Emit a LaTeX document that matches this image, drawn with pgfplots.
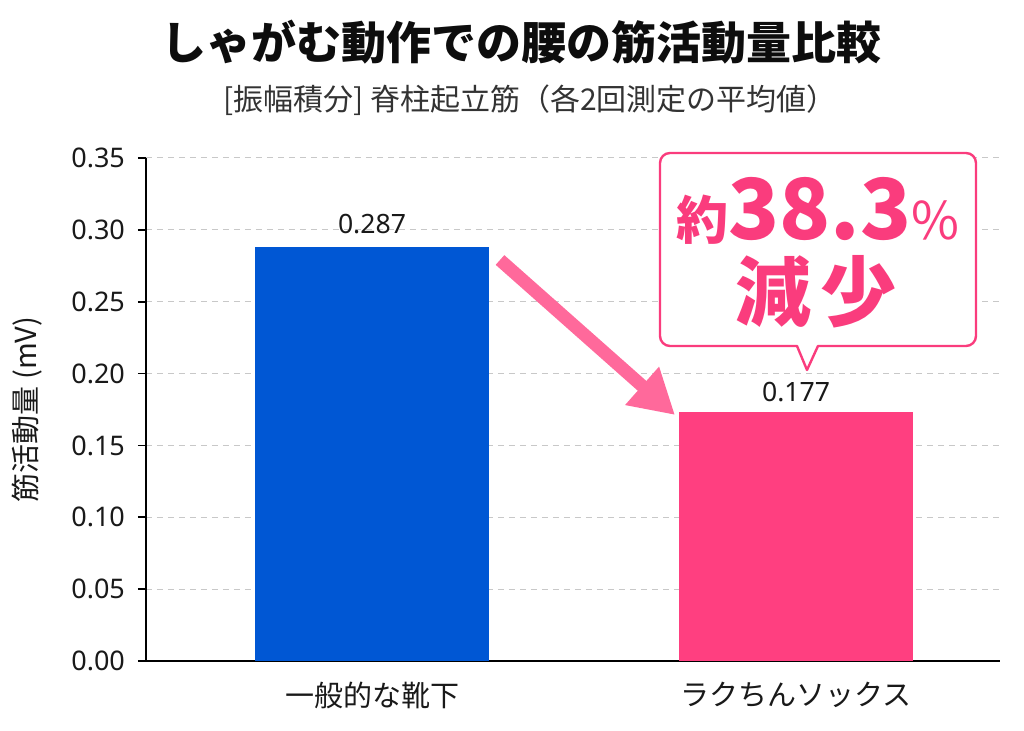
\documentclass[border=0pt]{standalone}
\usepackage{fontspec}
\setmainfont{Noto Sans CJK JP}
\newfontfamily\numfont{Noto Sans}
\usepackage{pgfplots}
\pgfplotsset{compat=1.18}
\usetikzlibrary{arrows.meta}
\definecolor{barblue}{RGB}{0,87,212}
\definecolor{barpink}{RGB}{255,63,128}
\definecolor{arrowpink}{RGB}{255,105,155}
\definecolor{callpink}{RGB}{250,60,125}
\definecolor{gridgray}{RGB}{200,200,200}
\begin{document}
\begin{tikzpicture}
\useasboundingbox (-73pt,-35pt) rectangle (439pt,330.5pt);
\begin{axis}[
  at={(0pt,0pt)}, anchor=south west,
  scale only axis, width=427pt, height=251.5pt,
  xmin=-0.533, xmax=1.481, ymin=0, ymax=0.35,
  axis lines*=left,
  axis line style={line width=0.9pt, black},
  ytick={0,0.05,0.10,0.15,0.20,0.25,0.30,0.35},
  yticklabel style={/pgf/number format/fixed, /pgf/number format/fixed zerofill, /pgf/number format/precision=2, /pgf/number format/assume math mode=true, font=\numfont\fontsize{13.5}{14}\selectfont, text=black!90, xshift=-3pt},
  xtick={0,1}, xticklabels={一般的な靴下, ラクちんソックス},
  xticklabel style={font=\fontsize{14.5}{15}\selectfont, text=black!90, yshift=-3pt},
  major x tick style={draw=none},
  tick align=outside, major tick length=4pt,
  y tick style={black, line width=0.8pt},
  ymajorgrids, grid style={dash pattern=on 3pt off 2.5pt, gridgray, line width=0.5pt},
  ybar, bar width=0.55, bar shift=0pt,
  ylabel={筋活動量 (mV)},
  every axis y label/.style={at={(axis description cs:0,0.5)}, xshift=-59.5pt, rotate=90, anchor=center, font=\fontsize{14.5}{15}\selectfont, text=black!90},
  nodes near coords, point meta=explicit symbolic,
  every node near coord/.append style={font=\numfont\fontsize{13.3}{14}\selectfont, text=black!90, anchor=base},
]
\addplot[fill=barblue, draw=none, every node near coord/.append style={yshift=7pt}] coordinates {(0,0.288) [0.287]};
\addplot[fill=barpink, draw=none, every node near coord/.append style={yshift=5.3pt}] coordinates {(1,0.173) [0.177]};
\end{axis}
% arrow
\draw[arrowpink, line width=6.5pt, -{Triangle[length=22pt, width=24pt]}] (177pt,200.5pt) -- (264.5pt,123pt);
% callout
\draw[callpink, line width=1.2pt, fill=white, line join=round]
  (325.5pt,157.5pt) -- (330.5pt,145.5pt) -- (336pt,157.5pt)
  [rounded corners=5pt] -- (415pt,157.5pt) -- (415pt,254pt) -- (257pt,254pt) -- (257pt,157.5pt) [sharp corners] -- (325.5pt,157.5pt) -- cycle;
\node[text=callpink, anchor=base, inner sep=0pt, text depth=0pt] at (336pt,210.5pt)
  {\bfseries\fontsize{26}{26}\selectfont 約\fontsize{42}{42}\selectfont 38.3\mdseries\fontsize{26}{26}\selectfont\%};
\node[text=callpink, inner sep=0pt] at (335pt,184.5pt)
  {\fontsize{38}{38}\selectfont\bfseries 減\hspace{5pt}少};
% titles
\node[text=black!95] at (188pt,309.5pt) {\fontsize{22.5}{23}\selectfont\bfseries しゃがむ動作での腰の筋活動量比較};
\node[text=black!80] at (192pt,280.5pt) {\fontsize{15}{16}\selectfont [振幅積分] 脊柱起立筋（各2回測定の平均値）};
\end{tikzpicture}
\end{document}
